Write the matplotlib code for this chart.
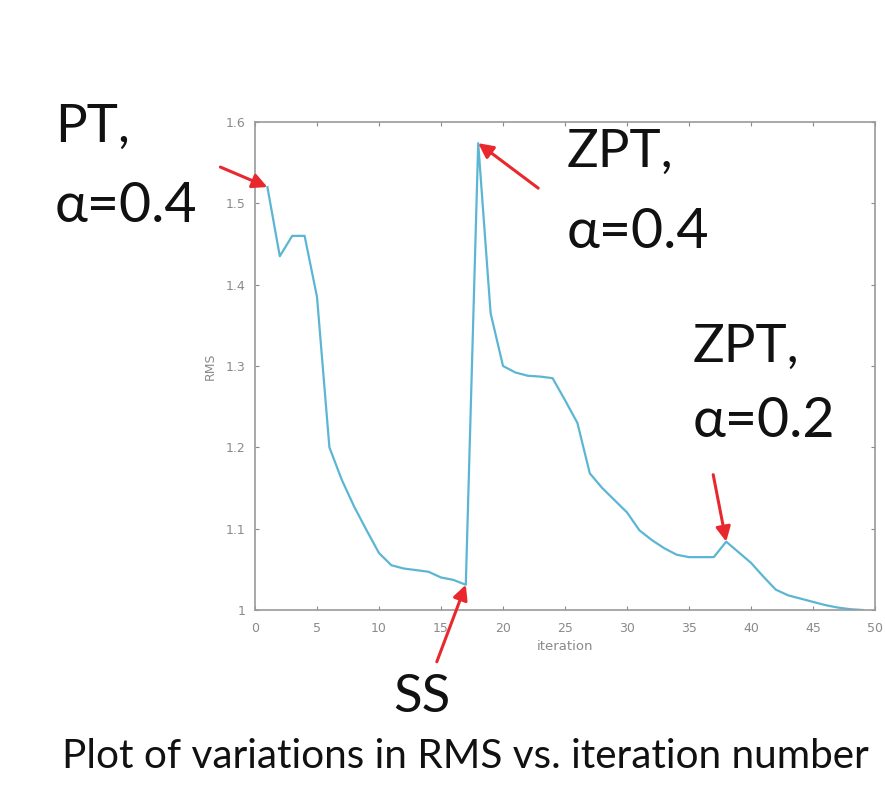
import matplotlib
matplotlib.use("Agg")
import matplotlib.pyplot as plt

# RMS per iteration
iters = list(range(1, 50))
rms = [1.52, 1.435, 1.46, 1.46, 1.385, 1.20, 1.16, 1.127, 1.098, 1.07,
       1.055, 1.051, 1.049, 1.047, 1.04, 1.037, 1.031, 1.574, 1.365, 1.30,
       1.292, 1.288, 1.287, 1.285, 1.258, 1.23, 1.168, 1.15, 1.135, 1.12,
       1.098, 1.086, 1.076, 1.068, 1.065, 1.065, 1.065, 1.084, 1.071, 1.058,
       1.041, 1.025, 1.018, 1.014, 1.01, 1.006, 1.003, 1.001, 1.0]

xticks = [0, 5, 10, 15, 20, 25, 30, 35, 40, 45, 50]
yticks = [1, 1.1, 1.2, 1.3, 1.4, 1.5, 1.6]
ytick_labels = ["1", "1.1", "1.2", "1.3", "1.4", "1.5", "1.6"]

# which data point each arrow points at
marks = {"PT": 0, "SS": 16, "ZPT4": 17, "ZPT2": 37}

W, H = 885, 786
big = ["Lato", "DejaVu Sans"]
red = "#e8282c"
grey = "#8a8a8a"

fig = plt.figure(figsize=(W / 100, H / 100), dpi=100)
ax = fig.add_axes([255 / W, 1 - 610 / H, 620 / W, 488 / H])

ax.plot(iters, rms, color="#5cb6d3", lw=1.6)
ax.set_xlim(0, 50)
ax.set_ylim(1, 1.6)
ax.set_xticks(xticks)
ax.set_yticks(yticks)
ax.set_yticklabels(ytick_labels)
ax.tick_params(direction="in", top=True, right=True, length=3, width=0.8,
               colors=grey, labelsize=9, labelcolor=grey)
ax.tick_params(axis="y", pad=7)
ax.tick_params(axis="x", pad=9)
for s in ax.spines.values():
    s.set_color("#9a9a9a")
    s.set_linewidth(1.2)
ax.set_xlabel("iteration", fontsize=9.5, color=grey, labelpad=3)
ax.set_ylabel("RMS", fontsize=9, color=grey, labelpad=6)

def arrow(i, dx, dy):
    ax.annotate("", xy=(iters[i], rms[i]), xytext=(dx, dy),
                textcoords="offset pixels",
                arrowprops=dict(arrowstyle="-|>", color=red, lw=2.2,
                                mutation_scale=22, shrinkA=0, shrinkB=0))

arrow(marks["PT"], -47, 20)
arrow(marks["ZPT4"], 60, -45)
arrow(marks["SS"], -29, -77)
arrow(marks["ZPT2"], -13, 67)

def label(x, base, txt, size=38):
    fig.text(x / W, 1 - base / H, txt, fontsize=size, family=big,
             ha="left", va="baseline", color="#111111")

label(55, 142, "PT,")
label(55, 222, "α=0.4", 40)
label(567, 167, "ZPT,")
label(567, 248, "α=0.4", 40)
label(693, 362, "ZPT,")
label(693, 437, "α=0.2", 40)
label(393, 712, "SS")
label(62, 768, "Plot of variations in RMS vs. iteration number", size=29.2)

fig.savefig("out.png", dpi=100)
